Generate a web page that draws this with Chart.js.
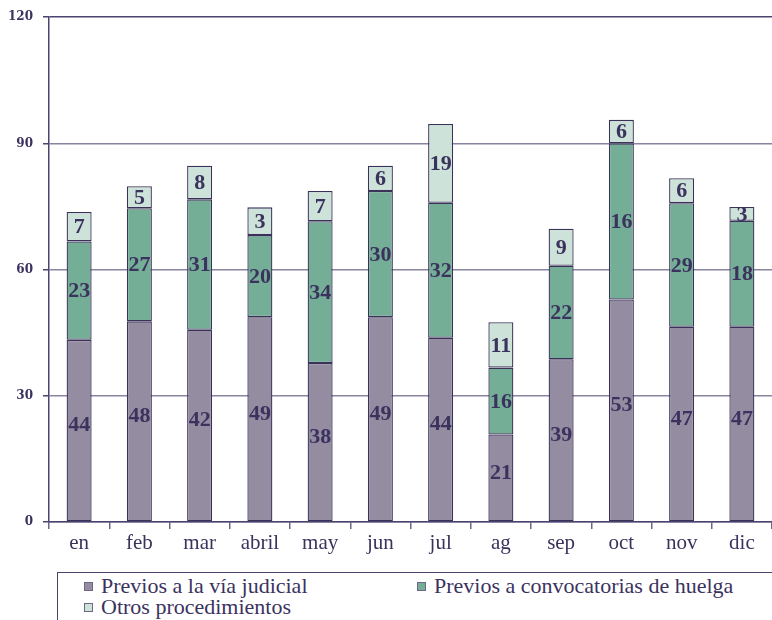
<!DOCTYPE html>
<html lang="es">
<head>
    <meta charset="UTF-8">
    <title>Procedimientos por mes</title>
    <script src="https://cdn.jsdelivr.net/npm/chart.js"></script>
    <style>
        html, body { margin: 0; padding: 0; background: #fff; }
        body { width: 772px; height: 620px; overflow: hidden; position: relative; }
        #chartBox { position: absolute; left: 0; top: 0; width: 772px; height: 562px; }
        /* legend box, cut off at the right and bottom like the original */
        #legend {
            position: absolute; left: 57px; top: 572px; width: 760px; height: 70px;
            border: 1px solid #4a4268;
            font-family: "Liberation Serif", serif; font-size: 22px; color: #3b325e;
        }
        .item { position: absolute; white-space: nowrap; line-height: 22px; }
        .item span.box {
            display: inline-block; width: 7px; height: 7px; border: 1px solid #6d6688;
            margin-right: 8px; vertical-align: 2px;
        }
    </style>
</head>
<body>
    <div id="chartBox"><canvas id="barChart"></canvas></div>
    <div id="legend">
        <div class="item" style="left:26px; top:2px;"><span class="box" style="background:#948ca0"></span>Previos a la vía judicial</div>
        <div class="item" style="left:359px; top:2px;"><span class="box" style="background:#74ae97"></span>Previos a convocatorias de huelga</div>
        <div class="item" style="left:26px; top:23px;"><span class="box" style="background:#cde3d9"></span>Otros procedimientos</div>
    </div>

    <script>
        const months = ['en', 'feb', 'mar', 'abril', 'may', 'jun', 'jul', 'ag', 'sep', 'oct', 'nov', 'dic'];

        // bar heights as drawn in the picture
        const judicial = [43.3, 47.7, 45.7, 48.7, 37.8, 48.7, 43.8, 20.8, 38.7, 52.9, 46.4, 46.4];
        const huelga = [23.4, 26.9, 31.0, 19.5, 33.7, 30.0, 32.1, 15.9, 22.2, 37.1, 29.4, 25.2];
        const otros = [7.0, 5.2, 8.0, 6.6, 7.2, 6.0, 18.7, 10.8, 8.8, 5.6, 5.9, 3.3];

        // numbers printed inside the segments
        const judicialLabels = ['44', '48', '42', '49', '38', '49', '44', '21', '39', '53', '47', '47'];
        const huelgaLabels = ['23', '27', '31', '20', '34', '30', '32', '16', '22', '16', '29', '18'];
        const otrosLabels = ['7', '5', '8', '3', '7', '6', '19', '11', '9', '6', '6', '3'];

        const yTicks = [0, 30, 60, 90, 120];

        const segLabels = [judicialLabels, huelgaLabels, otrosLabels];

        // writes the printed number in the middle of each segment
        const segmentText = {
            id: 'segmentText',
            afterDatasetsDraw(chart) {
                const ctx = chart.ctx;
                ctx.save();
                ctx.font = 'bold 22px "Liberation Serif"';
                ctx.fillStyle = '#3b325e';
                ctx.textAlign = 'center';
                ctx.textBaseline = 'middle';
                chart.data.datasets.forEach((ds, i) => {
                    chart.getDatasetMeta(i).data.forEach((bar, j) => {
                        // the bottom numbers sit a little above the middle in the original
                        const lift = i === 0 ? 6 : 0;
                        const y = (bar.y + bar.base) / 2 + 1 - lift;
                        ctx.fillText(segLabels[i][j], bar.x, y);
                    });
                });
                ctx.restore();
            }
        };

        const edge = '#3a3258';
        const common = { borderColor: edge, borderWidth: 1.3, borderSkipped: false, barPercentage: 0.415, categoryPercentage: 1 };

        new Chart(document.getElementById('barChart'), {
            type: 'bar',
            data: {
                labels: months,
                datasets: [
                    Object.assign({ label: 'Previos a la vía judicial', data: judicial, backgroundColor: '#948ca0' }, common),
                    Object.assign({ label: 'Previos a convocatorias de huelga', data: huelga, backgroundColor: '#74ae97' }, common),
                    Object.assign({ label: 'Otros procedimientos', data: otros, backgroundColor: '#cde3d9' }, common)
                ]
            },
            options: {
                responsive: true,
                maintainAspectRatio: false,
                animation: false,
                layout: { padding: { top: 15, left: 0, right: 0, bottom: 0 } },
                plugins: { legend: { display: false }, tooltip: { enabled: false } },
                scales: {
                    x: {
                        stacked: true,
                        afterFit: (s) => { s.height = 40; },
                        grid: { offset: true, drawOnChartArea: false, drawTicks: true, tickLength: 7, tickColor: '#6d6688', lineWidth: 1.5 },
                        border: { color: '#4b4470', width: 1.5 },
                        ticks: { color: '#3b325e', padding: 2, font: { family: 'Liberation Serif', size: 21 } }
                    },
                    y: {
                        stacked: true,
                        min: 0,
                        max: 120,
                        afterFit: (s) => { s.width = 49; },
                        afterBuildTicks: (s) => { s.ticks = yTicks.map(v => ({ value: v })); },
                        grid: {
                            color: (c) => c.tick && c.tick.value === 120 ? '#4b4470' : '#8a84a0',
                            lineWidth: 1.5,
                            tickLength: 6,
                            tickColor: '#4b4470'
                        },
                        border: { color: '#4b4470', width: 1.5 },
                        ticks: { color: '#3b325e', padding: 10, font: { family: 'DejaVu Serif', size: 12, weight: 'bold' } }
                    }
                }
            },
            plugins: [segmentText]
        });
    </script>
</body>
</html>
